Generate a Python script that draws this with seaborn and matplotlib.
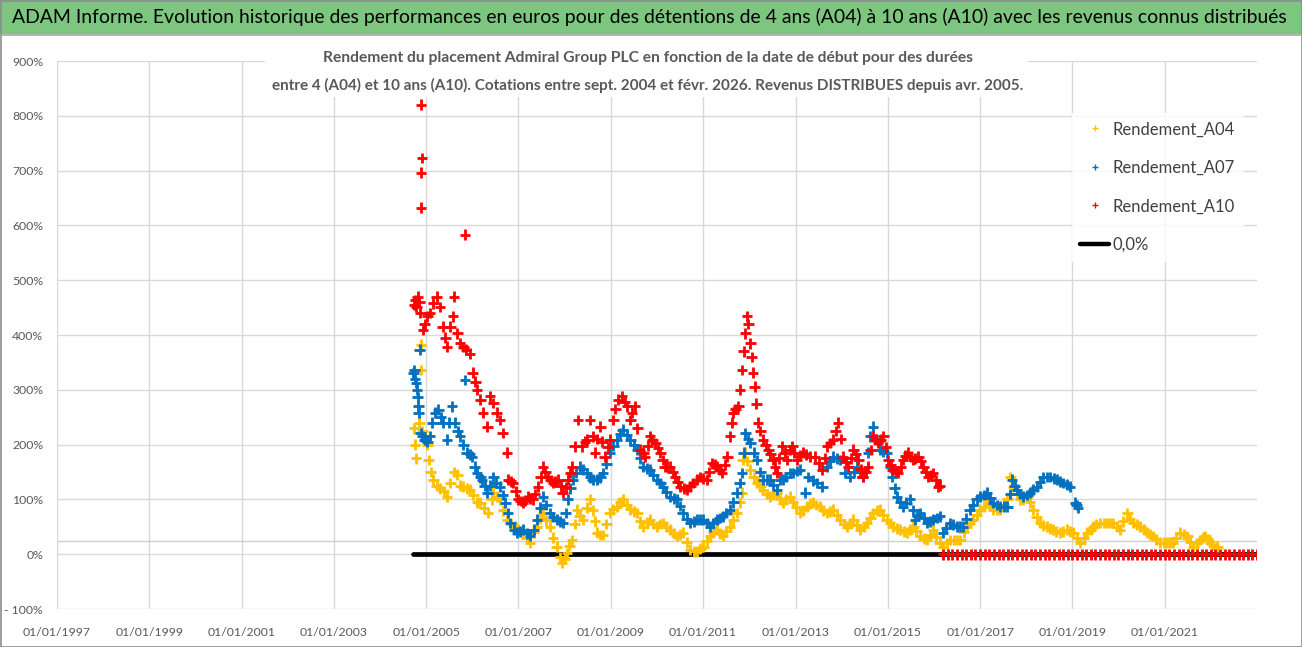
import numpy as np
import pandas as pd
import matplotlib
matplotlib.use("Agg")
import matplotlib.pyplot as plt
import matplotlib.dates as mdates
from matplotlib.lines import Line2D
from matplotlib.patches import Rectangle
from matplotlib import font_manager
import seaborn as sns

# ---------------- data (start date as decimal year, return in %) ----------------
a04_dates = [2004.74, 2004.76, 2004.78, 2004.85, 2004.88, 2004.89, 2004.92, 2004.97, 2005.02, 2005.05,
             2005.10, 2005.15, 2005.23, 2005.30, 2005.38, 2005.45, 2005.52, 2005.60, 2005.67, 2005.73,
             2005.80, 2005.88, 2005.95, 2006.02, 2006.10, 2006.17, 2006.25, 2006.34, 2006.42, 2006.45,
             2006.53, 2006.60, 2006.67, 2006.75, 2006.84, 2006.92, 2007.00, 2007.10, 2007.18, 2007.25,
             2007.33, 2007.40, 2007.47, 2007.53, 2007.60, 2007.68, 2007.75, 2007.83, 2007.90, 2007.94,
             2008.00, 2008.05, 2008.10, 2008.16, 2008.22, 2008.27, 2008.33, 2008.40, 2008.48, 2008.55,
             2008.61, 2008.66, 2008.70, 2008.77, 2008.83, 2008.90, 2008.98, 2009.05, 2009.13, 2009.20,
             2009.26, 2009.34, 2009.42, 2009.50, 2009.57, 2009.63, 2009.70, 2009.78, 2009.85, 2009.92,
             2010.00, 2010.07, 2010.13, 2010.20, 2010.28, 2010.36, 2010.43, 2010.50, 2010.56, 2010.64,
             2010.72, 2010.80, 2010.87, 2010.94, 2011.00, 2011.08, 2011.15, 2011.22, 2011.30, 2011.36,
             2011.43, 2011.50, 2011.58, 2011.65, 2011.73, 2011.80, 2011.84, 2011.86, 2011.91, 2011.96,
             2012.02, 2012.10, 2012.17, 2012.24, 2012.30, 2012.38, 2012.45, 2012.52, 2012.60, 2012.67,
             2012.73, 2012.80, 2012.88, 2012.95, 2013.02, 2013.10, 2013.17, 2013.25, 2013.32, 2013.38,
             2013.45, 2013.53, 2013.60, 2013.68, 2013.75, 2013.81, 2013.89, 2013.97, 2014.05, 2014.12,
             2014.18, 2014.25, 2014.33, 2014.40, 2014.48, 2014.55, 2014.62, 2014.68, 2014.76, 2014.83,
             2014.90, 2014.98, 2015.05, 2015.11, 2015.20, 2015.27, 2015.35, 2015.42, 2015.48, 2015.55,
             2015.62, 2015.70, 2015.78, 2015.85, 2015.92, 2015.98, 2016.05, 2016.13, 2016.20, 2016.28,
             2016.35, 2016.43, 2016.50, 2016.57, 2016.65, 2016.72, 2016.78, 2016.85, 2016.93, 2017.00,
             2017.08, 2017.15, 2017.22, 2017.28, 2017.36, 2017.43, 2017.51, 2017.59, 2017.65, 2017.71,
             2017.80, 2017.87, 2017.93, 2018.02, 2018.08, 2018.15, 2018.23, 2018.30, 2018.37, 2018.45,
             2018.52, 2018.58, 2018.65, 2018.73, 2018.80, 2018.89, 2018.95, 2019.02, 2019.10, 2019.17,
             2019.25, 2019.32, 2019.40, 2019.45, 2019.52, 2019.60, 2019.68, 2019.75, 2019.82, 2019.88,
             2019.96, 2020.03, 2020.10, 2020.19, 2020.25, 2020.32, 2020.40, 2020.47, 2020.55, 2020.62,
             2020.68, 2020.75, 2020.82, 2020.90, 2020.98, 2021.05, 2021.12, 2021.18, 2021.25, 2021.33,
             2021.41, 2021.49, 2021.55, 2021.62, 2021.70, 2021.77, 2021.83, 2021.88, 2021.93, 2021.98,
             2022.05, 2022.14]
a04_values = [230, 200, 175, 240, 336, 382, 225, 215, 200, 172,
              150, 136, 125, 120, 115, 105, 130, 150, 145, 125,
              123, 120, 118, 108, 95, 94, 85, 75, 100, 112,
              105, 100, 80, 63, 55, 50, 45, 39, 30, 21,
              40, 50, 65, 75, 62, 50, 30, 14, -5, -16,
              -8, 2, 15, 26, 55, 81, 70, 63, 85, 100,
              80, 60, 39, 35, 35, 55, 75, 82, 87, 95,
              100, 90, 82, 78, 75, 60, 50, 58, 63, 55,
              50, 55, 57, 50, 45, 38, 33, 36, 39, 22,
              8, 5, 5, 10, 14, 25, 33, 40, 45, 38,
              33, 42, 50, 62, 75, 95, 112, 172, 185, 170,
              154, 140, 130, 124, 118, 110, 105, 108, 112, 100,
              94, 100, 105, 95, 87, 75, 80, 87, 92, 94,
              90, 87, 80, 75, 78, 81, 72, 63, 55, 50,
              56, 63, 54, 45, 50, 57, 66, 75, 80, 81,
              72, 63, 57, 50, 47, 45, 42, 39, 45, 50,
              42, 33, 28, 26, 35, 45, 32, 21, 14, 20,
              26, 26, 26, 26, 40, 50, 57, 63, 72, 81,
              87, 100, 90, 81, 81, 81, 90, 100, 141, 123,
              110, 100, 100, 105, 95, 81, 68, 57, 52, 50,
              47, 45, 42, 39, 42, 45, 42, 39, 30, 21,
              30, 39, 45, 50, 55, 57, 57, 57, 57, 57,
              50, 45, 60, 75, 65, 57, 54, 50, 45, 39,
              36, 33, 27, 21, 21, 21, 21, 21, 30, 39,
              36, 33, 22, 14, 20, 26, 30, 33, 27, 21,
              17, 14]

a07_dates = [2004.72, 2004.74, 2004.76, 2004.78, 2004.80, 2004.82, 2004.83, 2004.84, 2004.86, 2004.88,
             2004.92, 2004.97, 2005.02, 2005.08, 2005.13, 2005.19, 2005.26, 2005.31, 2005.36, 2005.45,
             2005.50, 2005.56, 2005.62, 2005.68, 2005.73, 2005.80, 2005.84, 2005.88, 2005.95, 2005.99,
             2006.05, 2006.10, 2006.17, 2006.21, 2006.27, 2006.32, 2006.38, 2006.45, 2006.52, 2006.60,
             2006.66, 2006.71, 2006.77, 2006.82, 2006.90, 2006.97, 2007.03, 2007.10, 2007.18, 2007.25,
             2007.33, 2007.40, 2007.47, 2007.53, 2007.60, 2007.68, 2007.75, 2007.83, 2007.90, 2007.96,
             2008.02, 2008.07, 2008.12, 2008.18, 2008.25, 2008.33, 2008.40, 2008.48, 2008.55, 2008.61,
             2008.70, 2008.77, 2008.83, 2008.90, 2008.98, 2009.05, 2009.13, 2009.20, 2009.26, 2009.34,
             2009.42, 2009.50, 2009.57, 2009.63, 2009.70, 2009.78, 2009.85, 2009.92, 2010.00, 2010.07,
             2010.13, 2010.20, 2010.28, 2010.36, 2010.43, 2010.50, 2010.56, 2010.64, 2010.72, 2010.80,
             2010.87, 2010.94, 2011.00, 2011.08, 2011.15, 2011.22, 2011.30, 2011.36, 2011.43, 2011.50,
             2011.58, 2011.65, 2011.73, 2011.79, 2011.84, 2011.88, 2011.91, 2011.97, 2012.02, 2012.10,
             2012.17, 2012.24, 2012.30, 2012.38, 2012.45, 2012.52, 2012.60, 2012.67, 2012.73, 2012.80,
             2012.88, 2012.95, 2013.03, 2013.10, 2013.21, 2013.27, 2013.38, 2013.47, 2013.58, 2013.68,
             2013.75, 2013.81, 2013.90, 2013.97, 2014.07, 2014.18, 2014.27, 2014.33, 2014.40, 2014.46,
             2014.57, 2014.62, 2014.68, 2014.75, 2014.83, 2014.90, 2014.98, 2015.05, 2015.09, 2015.15,
             2015.20, 2015.27, 2015.33, 2015.40, 2015.48, 2015.55, 2015.59, 2015.65, 2015.70, 2015.78,
             2015.85, 2015.92, 2015.98, 2016.06, 2016.13, 2016.20, 2016.27, 2016.35, 2016.42, 2016.50,
             2016.57, 2016.63, 2016.70, 2016.78, 2016.85, 2016.93, 2017.00, 2017.08, 2017.15, 2017.22,
             2017.28, 2017.36, 2017.43, 2017.51, 2017.59, 2017.65, 2017.69, 2017.75, 2017.80, 2017.87,
             2017.93, 2018.02, 2018.08, 2018.15, 2018.23, 2018.30, 2018.37, 2018.45, 2018.52, 2018.60,
             2018.67, 2018.73, 2018.80, 2018.88, 2018.95, 2019.06, 2019.09, 2019.12]
a07_values = [330, 336, 320, 313, 300, 287, 270, 258, 373, 221,
              215, 209, 205, 215, 240, 258, 264, 250, 240, 209,
              240, 270, 240, 225, 215, 200, 318, 185, 182, 178,
              160, 148, 140, 136, 125, 112, 125, 141, 130, 123,
              108, 94, 75, 57, 45, 39, 42, 45, 38, 33,
              45, 63, 85, 105, 90, 75, 68, 63, 60, 57,
              75, 100, 120, 136, 148, 160, 155, 148, 140, 136,
              136, 140, 148, 165, 185, 198, 209, 220, 227, 218,
              209, 200, 191, 175, 160, 157, 154, 145, 136, 130,
              123, 114, 105, 102, 100, 88, 75, 65, 57, 60,
              63, 63, 63, 57, 50, 57, 63, 66, 69, 75,
              81, 95, 112, 130, 148, 185, 221, 210, 203, 185,
              172, 150, 136, 136, 136, 127, 118, 136, 136, 141,
              148, 148, 152, 154, 112, 141, 135, 130, 123, 160,
              170, 178, 175, 172, 148, 141, 150, 160, 150, 141,
              185, 215, 233, 210, 191, 188, 185, 160, 141, 120,
              105, 95, 87, 94, 100, 80, 63, 70, 75, 66,
              57, 60, 63, 66, 69, 39, 48, 57, 54, 50,
              50, 50, 65, 81, 90, 100, 105, 108, 112, 103,
              94, 90, 87, 87, 87, 110, 136, 125, 118, 110,
              105, 108, 112, 118, 123, 132, 141, 141, 141, 138,
              136, 133, 130, 127, 123, 94, 90, 85]

a10_dates = [2004.89, 2004.91, 2004.89, 2004.89, 2005.84,
             2004.74, 2004.76, 2004.79, 2004.82, 2004.85, 2004.87, 2004.93, 2004.97, 2005.02, 2005.08,
             2005.15, 2005.23, 2005.30, 2005.36, 2005.41, 2005.45, 2005.52, 2005.58, 2005.60, 2005.67,
             2005.73, 2005.80, 2005.86, 2005.95, 2006.01, 2006.06, 2006.10, 2006.17, 2006.23, 2006.32,
             2006.38, 2006.45, 2006.53, 2006.60, 2006.66, 2006.75, 2006.77, 2006.83, 2006.88, 2006.94,
             2006.99, 2007.05, 2007.10, 2007.15, 2007.21, 2007.25, 2007.31, 2007.36, 2007.42, 2007.48,
             2007.53, 2007.58, 2007.64, 2007.70, 2007.75, 2007.80, 2007.86, 2007.91, 2007.96, 2008.02,
             2008.07, 2008.12, 2008.16, 2008.22, 2008.29, 2008.38, 2008.44, 2008.48, 2008.55, 2008.61,
             2008.66, 2008.71, 2008.77, 2008.82, 2008.87, 2008.93, 2008.98, 2009.05, 2009.10, 2009.16,
             2009.24, 2009.30, 2009.35, 2009.42, 2009.46, 2009.52, 2009.57, 2009.63, 2009.70, 2009.74,
             2009.80, 2009.85, 2009.90, 2009.96, 2010.02, 2010.07, 2010.12, 2010.17, 2010.22, 2010.28,
             2010.34, 2010.39, 2010.45, 2010.50, 2010.58, 2010.65, 2010.72, 2010.78, 2010.86, 2010.93,
             2011.00, 2011.08, 2011.13, 2011.19, 2011.25, 2011.30, 2011.36, 2011.41, 2011.47, 2011.52,
             2011.58, 2011.62, 2011.65, 2011.70, 2011.76, 2011.80, 2011.84, 2011.88, 2011.91, 2011.95,
             2011.98, 2012.02, 2012.05, 2012.08, 2012.12, 2012.15, 2012.19, 2012.24, 2012.30, 2012.36,
             2012.41, 2012.46, 2012.51, 2012.56, 2012.60, 2012.65, 2012.71, 2012.77, 2012.82, 2012.88,
             2012.93, 2012.98, 2013.03, 2013.10, 2013.16, 2013.23, 2013.32, 2013.42, 2013.50, 2013.58,
             2013.64, 2013.68, 2013.75, 2013.81, 2013.87, 2013.92, 2013.98, 2014.03, 2014.09, 2014.14,
             2014.20, 2014.25, 2014.31, 2014.36, 2014.41, 2014.46, 2014.52, 2014.57, 2014.63, 2014.68,
             2014.74, 2014.79, 2014.85, 2014.90, 2014.96, 2015.01, 2015.06, 2015.11, 2015.17, 2015.22,
             2015.28, 2015.33, 2015.38, 2015.44, 2015.50, 2015.55, 2015.60, 2015.66, 2015.71, 2015.77,
             2015.82, 2015.87, 2015.93, 2015.98, 2016.04, 2016.09, 2016.13,
             2016.2, 2016.3, 2016.4, 2016.5, 2016.6, 2016.7, 2016.8, 2016.9, 2017.0, 2017.1,
             2017.2, 2017.3, 2017.4, 2017.5, 2017.6, 2017.7, 2017.8, 2017.9, 2018.0, 2018.1,
             2018.2, 2018.3, 2018.4, 2018.5, 2018.6, 2018.7, 2018.8, 2018.9, 2019.0, 2019.1,
             2019.2, 2019.3, 2019.4, 2019.5, 2019.6, 2019.7, 2019.8, 2019.9, 2020.0, 2020.1,
             2020.2, 2020.3, 2020.4, 2020.5, 2020.6, 2020.7, 2020.8, 2020.9, 2021.0, 2021.1,
             2021.2, 2021.3, 2021.4, 2021.5, 2021.6, 2021.7, 2021.8, 2021.9, 2022.0, 2022.1,
             2022.2, 2022.3, 2022.4, 2022.5, 2022.6, 2022.7, 2022.8, 2022.9, 2023.0]
a10_values = [820, 723, 696, 632, 583,
              455, 464, 451, 470, 460, 440, 410, 420, 434, 440,
              458, 470, 451, 415, 395, 379, 415, 434, 470, 403,
              385, 378, 373, 366, 331, 315, 300, 282, 258, 233,
              288, 276, 258, 245, 221, 185, 136, 133, 130, 115,
              100, 97, 94, 98, 105, 102, 100, 110, 123, 140,
              160, 150, 141, 135, 130, 133, 136, 124, 112, 122,
              136, 148, 160, 197, 245, 197, 205, 209, 245, 215,
              185, 210, 233, 205, 178, 195, 209, 245, 265, 282,
              288, 278, 270, 245, 258, 270, 230, 191, 185, 178,
              198, 215, 209, 203, 194, 185, 172, 160, 160, 160,
              150, 141, 132, 123, 120, 118, 124, 130, 136, 141,
              138, 136, 150, 166, 163, 160, 154, 148, 163, 178,
              215, 240, 258, 265, 270, 300, 336, 370, 403, 434,
              420, 385, 360, 331, 306, 275, 240, 225, 209, 200,
              191, 182, 172, 160, 148, 175, 197, 185, 172, 190,
              197, 185, 172, 180, 185, 182, 178, 178, 166, 154,
              175, 197, 203, 209, 225, 240, 210, 178, 168, 160,
              175, 191, 182, 172, 155, 141, 150, 160, 190, 215,
              209, 203, 209, 215, 195, 172, 163, 154, 150, 148,
              160, 172, 180, 185, 178, 172, 175, 178, 170, 160,
              150, 141, 144, 148, 135, 123, 125,
              0, 0, 0, 0, 0, 0, 0, 0, 0, 0,
              0, 0, 0, 0, 0, 0, 0, 0, 0, 0,
              0, 0, 0, 0, 0, 0, 0, 0, 0, 0,
              0, 0, 0, 0, 0, 0, 0, 0, 0, 0,
              0, 0, 0, 0, 0, 0, 0, 0, 0, 0,
              0, 0, 0, 0, 0, 0, 0, 0, 0, 0,
              0, 0, 0, 0, 0, 0, 0, 0, 0]

zero_dates = [2004.71, 2023.0]
zero_values = [0.0, 0.0]

series_names = ["Rendement_A04", "Rendement_A07", "Rendement_A10"]
series_colors = ["#FFC000", "#0070C0", "#FF0000"]
zero_label = "0,0%"
y_ticks = [-100, 0, 100, 200, 300, 400, 500, 600, 700, 800, 900]
y_tick_labels = ["- 100%", "0%", "100%", "200%", "300%", "400%", "500%", "600%", "700%", "800%", "900%"]
x_tick_years = [1997, 1999, 2001, 2003, 2005, 2007, 2009, 2011, 2013, 2015, 2017, 2019, 2021]

title = ("ADAM Informe. Evolution historique des performances en euros pour des détentions "
         "de 4 ans (A04) à 10 ans (A10) avec les revenus connus distribués")
subtitle1 = "Rendement du placement Admiral Group PLC en fonction de la date de début pour des durées"
subtitle2 = ("entre 4 (A04) et 10 ans (A10). Cotations entre sept. 2004 et févr. 2026. "
             "Revenus DISTRIBUES depuis avr. 2005.")


def to_date(y):
    yr = int(np.floor(y))
    return pd.Timestamp(yr, 1, 1) + pd.Timedelta(days=(y - yr) * 365.25)


# ---------------- style ----------------
sns.set_theme(style="white")
available = {f.name for f in font_manager.fontManager.ttflist}
base_font = "Lato" if "Lato" in available else "Liberation Sans"
plt.rcParams["font.family"] = [base_font, "DejaVu Sans"]

W, H = 1302, 647
fig = plt.figure(figsize=(W / 100, H / 100), dpi=100)
fig.patch.set_facecolor("white")

# plot area in pixels
L, R, T, B = 57, 1257, 61, 609
ax = fig.add_axes([L / W, 1 - B / H, (R - L) / W, (B - T) / H])

frames = []
for name, d, v in zip(series_names, [a04_dates, a07_dates, a10_dates],
                      [a04_values, a07_values, a10_values]):
    frames.append(pd.DataFrame({"date": [to_date(x) for x in d], "value": v, "series": name}))
df = pd.concat(frames, ignore_index=True)

zero_df = pd.DataFrame({"date": [to_date(x) for x in zero_dates], "value": zero_values})
sns.lineplot(data=zero_df, x="date", y="value", color="black", linewidth=3.4, ax=ax,
             legend=False, zorder=2)

sns.scatterplot(data=df, x="date", y="value", hue="series", hue_order=series_names,
                palette=dict(zip(series_names, series_colors)), marker="+", s=60,
                linewidth=2.0, ax=ax, legend=False, zorder=3)

ax.set_xlim(pd.Timestamp(1997, 1, 1), pd.Timestamp(2023, 1, 1))
ax.set_ylim(-100, 900)
ax.set_xticks([pd.Timestamp(y, 1, 1) for y in x_tick_years])
ax.xaxis.set_major_formatter(mdates.DateFormatter("%d/%m/%Y"))
ax.set_yticks(y_ticks)
ax.set_yticklabels(y_tick_labels)
ax.set_xlabel("")
ax.set_ylabel("")
ax.tick_params(axis="both", length=0, colors="#595959")
ax.tick_params(axis="x", pad=13, labelsize=8.8)
ax.tick_params(axis="y", pad=10, labelsize=8.8)
for sp in ax.spines.values():
    sp.set_visible(False)
ax.set_axisbelow(True)
ax.grid(True, color="#D9D9D9", linewidth=1.0)
ax.axhline(24, color="#CFCFCF", linewidth=1.0, zorder=0.6)

# white box behind subtitle (hides gridlines)
ax.add_patch(Rectangle((265 / W, 1 - 97 / H), (1028 - 265) / W, 60 / H, transform=fig.transFigure,
                       facecolor="white", edgecolor="none", zorder=1, clip_on=False))

# legend
handles = [Line2D([], [], linestyle="none", marker="+", markersize=5, markeredgewidth=1.0,
                  color=c) for c in series_colors]
handles.append(Line2D([], [], color="black", linewidth=3.2))
leg = ax.legend(handles, series_names + [zero_label], loc="upper left",
                bbox_to_anchor=(1072 / W, 1 - 113 / H), bbox_transform=fig.transFigure,
                frameon=True, fontsize=12, labelspacing=1.35, handlelength=1.7,
                handletextpad=0.25, borderpad=0.5, borderaxespad=0, fancybox=False)
leg.get_frame().set_facecolor("white")
leg.get_frame().set_edgecolor("white")
for t in leg.get_texts():
    t.set_color("#404040")

# title bar
fig.add_artist(Rectangle((0, 1 - 34 / H), 1, 34 / H, transform=fig.transFigure,
                         facecolor="#7DC67F", edgecolor="none", zorder=0))
fig.add_artist(Line2D([0, 1], [1 - 34.5 / H, 1 - 34.5 / H], transform=fig.transFigure,
                      color="#A6A6A6", linewidth=1.2))
t_title = fig.text(649 / W, 1 - 17 / H, title, ha="center", va="center", fontsize=14,
                   color="black")
t_sub1 = fig.text(648 / W, 1 - 58 / H, subtitle1, ha="center", va="center", fontsize=11,
                  color="#595959", fontweight="bold")
t_sub2 = fig.text(648 / W, 1 - 85 / H, subtitle2, ha="center", va="center", fontsize=11,
                  color="#595959", fontweight="bold")
fig.add_artist(Rectangle((0.5 / W, 0.5 / H), 1 - 1 / W, 1 - 1 / H, transform=fig.transFigure,
                         facecolor="none", edgecolor="#8C8C8C", linewidth=1.2))

# fit text widths to the reference
fig.canvas.draw()
renderer = fig.canvas.get_renderer()
for t, target in [(t_title, 1282), (t_sub1, 651), (t_sub2, 752)]:
    bb = t.get_window_extent(renderer)
    t.set_fontsize(t.get_fontsize() * target / bb.width)

fig.savefig("out.png", dpi=100, facecolor="white")
